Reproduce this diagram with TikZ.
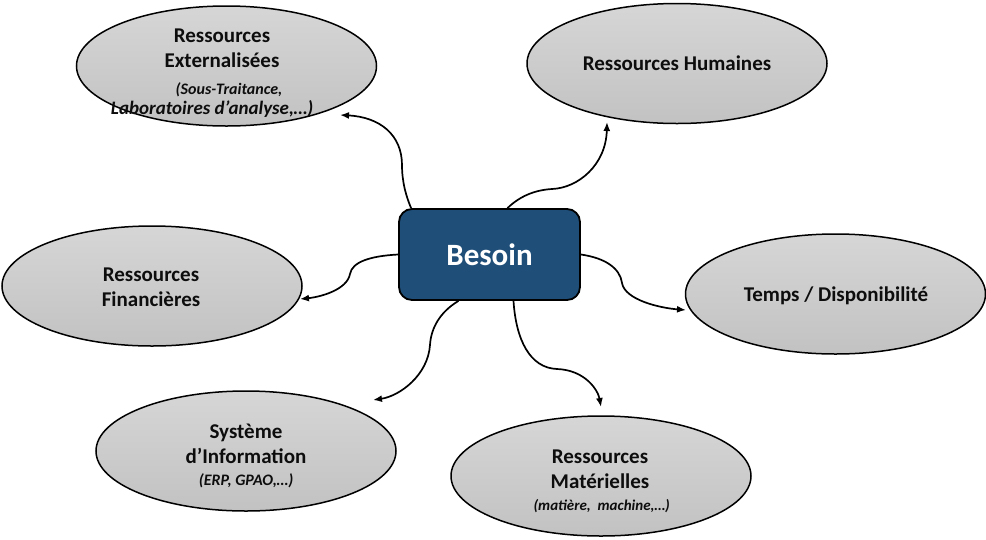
\documentclass[tikz,border=0pt]{standalone}
\usepackage{fontspec}
\setmainfont{Carlito}
\usetikzlibrary{arrows.meta,shapes.geometric}
\definecolor{boxblue}{RGB}{31,78,121}
\definecolor{elltop}{RGB}{214,214,214}
\definecolor{ellbot}{RGB}{194,194,194}
\definecolor{txtdark}{RGB}{13,13,13}
\newcommand\subtxt[1][16]{\fontsize{#1}{20}\selectfont\bfseries\itshape}
\tikzset{
  ell/.style={ellipse, draw=black, line width=1.5pt, top color=elltop, bottom color=ellbot,
    minimum width=300pt, minimum height=120pt, inner sep=0pt},
  elltext/.style={align=center, inner sep=0pt, text=txtdark,
    font=\bfseries\fontsize{21}{25}\selectfont},
  mainbox/.style={rectangle, rounded corners=13pt, draw=black, line width=1.8pt, fill=boxblue,
    minimum width=181pt, minimum height=91pt, text=white,
    font=\bfseries\fontsize{31}{37}\selectfont},
  conn/.style={line width=1.7pt, -{Latex[length=9pt,width=7pt]}}
}
\begin{document}
\begin{tikzpicture}[x=1pt,y=-1pt]
\useasboundingbox (0,0) rectangle (986,539);
\node[mainbox] (besoin) at (489.5,254.5) {Besoin};
\node[ell] (ext) at (226.5,66) {};
\node[ell] (hum) at (677,63.5) {};
\node[ell] (fin) at (152,286) {};
\node[ell] (tps) at (835.5,294) {};
\node[ell] (sys) at (246,451) {};
\node[ell] (mat) at (601,476) {};
\node[elltext] (extlbl) at (222,73) {Ressources\\Externalisées\\[2pt]{\hspace*{14pt}\subtxt (Sous-Traitance,}\\[-5pt]{\subtxt[19] Laboratoires d’analyse,…)\hspace*{24pt}}};
\node[elltext] (humlbl) at (677,63.5) {Ressources Humaines};
\node[elltext] (finlbl) at (151,287.5) {Ressources\\Financières};
\node[elltext] (tpslbl) at (836,296) {Temps / Disponibilité};
\node[elltext] (syslbl) at (246,455.5) {Système\\d’Information\\[-3pt]{\subtxt (ERP, GPAO,…)}};
\node[elltext] (matlbl) at (600,481.5) {Ressources\\Matérielles\\[-3pt]{\subtxt[15] (matière,~ machine,…)}};
\coordinate (t1) at (340,115);
\coordinate (t2) at (607,122);
\coordinate (t3) at (300,299);
\coordinate (t4) at (686,310);
\coordinate (t5) at (373,400);
\coordinate (t6) at (601,407);
\draw[conn] ([xshift=13pt]besoin.north west) .. controls (406,196) and (402,182) .. (402,165) .. controls (402,135) and (380,117) .. (t1);
\draw[conn] ([xshift=18pt]besoin.north) .. controls (520,196) and (535,190) .. (552,189) .. controls (578,188) and (606,165) .. (t2);
\draw[conn] (besoin.west) .. controls (370,256) and (352,262) .. (350,274) .. controls (347,290) and (320,297) .. (t3);
\draw[conn] (besoin.east) .. controls (605,258) and (620,268) .. (622,283) .. controls (625,300) and (660,308) .. (t4);
\draw[conn] ([xshift=-31pt]besoin.south) .. controls (440,312) and (431,328) .. (430,345) .. controls (428,375) and (400,396) .. (t5);
\draw[conn] ([xshift=24pt]besoin.south) .. controls (516,340) and (530,368) .. (557,369) .. controls (585,370) and (598,390) .. (t6);
\end{tikzpicture}
\end{document}
